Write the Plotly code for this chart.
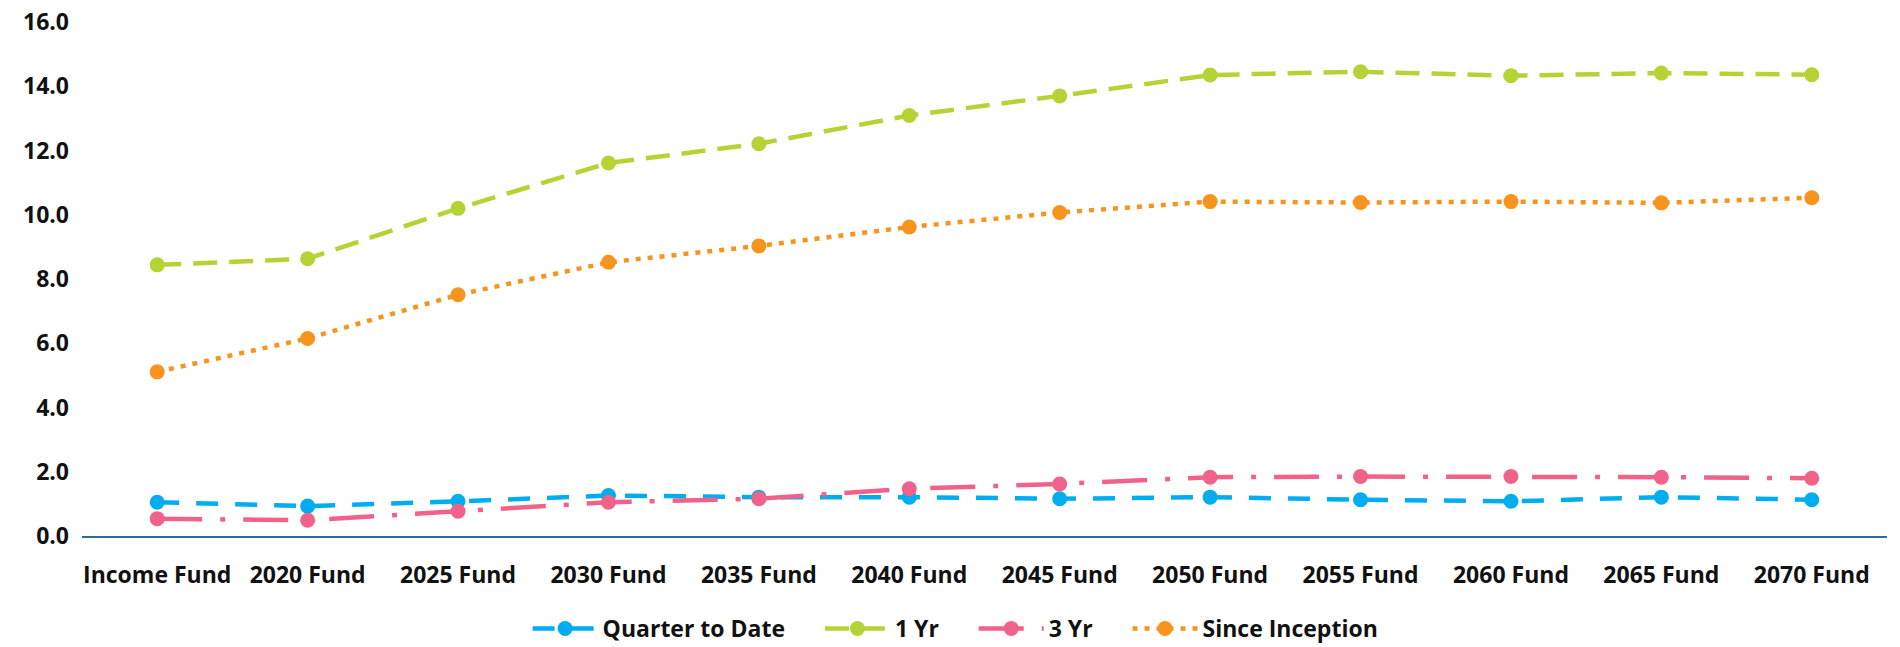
import plotly.graph_objects as go

# Fund categories (x axis)
funds = ["Income Fund", "2020 Fund", "2025 Fund", "2030 Fund", "2035 Fund", "2040 Fund",
         "2045 Fund", "2050 Fund", "2055 Fund", "2060 Fund", "2065 Fund", "2070 Fund"]

# Returns (%)
qtd = [1.05, 0.93, 1.08, 1.26, 1.21, 1.21, 1.16, 1.21, 1.13, 1.08, 1.21, 1.13]
one_yr = [8.44, 8.63, 10.2, 11.61, 12.21, 13.09, 13.7, 14.35, 14.45, 14.33, 14.41, 14.36]
three_yr = [0.54, 0.49, 0.77, 1.05, 1.16, 1.47, 1.62, 1.83, 1.85, 1.85, 1.83, 1.80]
since_inc = [5.11, 6.15, 7.51, 8.52, 9.03, 9.62, 10.07, 10.41, 10.38, 10.41, 10.37, 10.53]

y_ticks = [0, 2, 4, 6, 8, 10, 12, 14, 16]

FONT = "Open Sans"
PAD = "\u00a0" * 5  # extra room between legend entries

series = [
    ("Quarter to Date" + PAD, qtd, "#00AEEF", "22px,17px"),
    ("1 Yr" + PAD, one_yr, "#B5D334", "24px,12px"),
    ("3 Yr" + PAD, three_yr, "#F0628A", "45px,18px,5px,18px"),
    ("Since Inception", since_inc, "#F7941D", "5px,7px"),
]

fig = go.Figure()
for name, vals, color, dash in series:
    fig.add_trace(go.Scatter(
        x=funds, y=vals, name=name, mode="lines+markers",
        line=dict(color=color, width=4.5, dash=dash),
        marker=dict(color=color, size=15, symbol="circle"),
    ))

# page body adds an 8px margin, so the figure sits 8px in from the corner
fig.update_layout(
    width=1892, height=639,
    margin=dict(l=74, r=13, t=14, b=111, autoexpand=False),
    plot_bgcolor="white", paper_bgcolor="white",
    font=dict(family=FONT, size=23, color="#111111", weight="bold"),
    showlegend=True,
    legend=dict(orientation="h", x=0.484, xanchor="center", y=-0.18, yanchor="middle",
                font=dict(size=23, weight="bold"), itemwidth=65, bgcolor="rgba(0,0,0,0)"),
)

fig.update_xaxes(
    type="category", range=[-0.5, 11.5], automargin=False,
    showline=True, linecolor="#2D6E99", linewidth=2,
    showgrid=False, zeroline=False, ticks="",
    tickfont=dict(size=23, weight="bold"), ticklabelstandoff=17,
)
fig.update_yaxes(
    range=[0, 16], tickvals=y_ticks, tickformat=".1f", automargin=False,
    showline=False, showgrid=False, zeroline=False, ticks="",
    ticklabeloverflow="allow",
    tickfont=dict(size=23, weight="bold"), ticklabelstandoff=12,
)

fig.write_html("out.html")
